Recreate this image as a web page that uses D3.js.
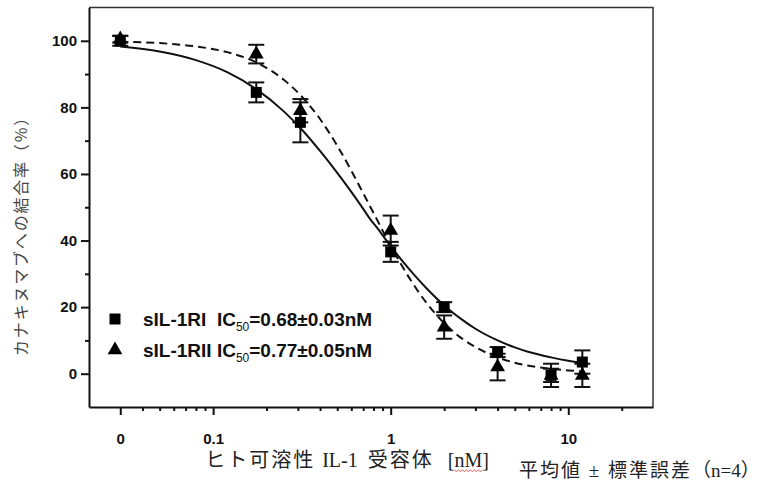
<!DOCTYPE html>
<html>
<head>
<meta charset="utf-8">
<script src="https://cdn.jsdelivr.net/npm/d3@7"></script>
<style>
  body { margin: 0; background: #fff; }
  svg { display: block; }
  .tick text { font-family: "Liberation Sans", Arial, sans-serif; font-weight: bold; font-size: 15px; fill: #111; }
</style>
</head>
<body>
<svg width="766" height="483"></svg>
<script>
// **** data ****
var conc = [0, 0.175, 0.31, 1, 2, 4, 8, 12];           // nM, 0 sits on the axis break
var r1Mean = [100, 84.5, 75.5, 36.6, 20, 6.5, -0.5, 3.5];  // sIL-1RI (squares)
var r1Err = [1.5, 3, 6, 3, 1.5, 1.5, 3.5, 3.5];
var r2Mean = [100.5, 96, 79, 43, 14, 2, -0.5, -0.5];      // sIL-1RII (triangles)
var r2Err = [1, 2.8, 3.5, 4.5, 3.5, 4, 2, 3.5];

// fitted curves
var fitX = [0.03, 0.05, 0.08, 0.12, 0.175, 0.25, 0.31, 0.4, 0.5, 0.6, 0.68, 0.77, 0.85, 0.9, 1, 1.3, 1.6, 2, 2.5, 3, 4, 5, 6, 8, 10, 12];
var fit1Y = [98.3, 96.8, 94.2, 90.6, 85.5, 78.8, 73.8, 66.9, 60.3, 54.6, 50.5, 46.3, 43.4, 41.6, 38.3, 30.8, 25.5, 20.5, 16.4, 13.5, 10.0, 7.9, 6.5, 4.9, 3.9, 3.3];
var fit2Y = [99.7, 99.3, 98.3, 96.6, 93.5, 88.3, 83.7, 76.5, 68.5, 61.0, 55.5, 50.0, 45.6, 43.0, 38.4, 28.0, 21.1, 15.2, 10.7, 8.0, 4.9, 3.3, 2.4, 1.5, 1.0, 0.7];

var xMajor = [0.03, 0.1, 1, 10];
var xMajorLabels = ["0", "0.1", "1", "10"];
var xMinor = [0.04, 0.05, 0.06, 0.07, 0.08, 0.09, 0.2, 0.3, 0.4, 0.5, 0.6, 0.7, 0.8, 0.9, 2, 3, 4, 5, 6, 7, 8, 9, 20];
var yMajor = [0, 20, 40, 60, 80, 100];
var yMinor = [10, 30, 50, 70, 90];

var zeroPos = 0.03;   // where concentration 0 is drawn

var svg = d3.select('svg');
var plotLeft = 89, plotRight = 653, plotTop = 7.5, plotBottom = 407;

var xScale = d3.scaleLog().domain([0.02, 30]).range([plotLeft, plotRight]);
var yScale = d3.scaleLinear().domain([-10, 110]).range([plotBottom, plotTop]);

function px(c) { return xScale(c === 0 ? zeroPos : c); }

// **** frame and axes ****
svg.append('path')
    .attr('d', 'M' + plotLeft + ',' + plotTop + 'H' + plotRight + 'V' + plotBottom)
    .attr('fill', 'none').attr('stroke', '#333').attr('stroke-width', 1.5);

function styleTicks(g) {
    g.selectAll('line').attr('stroke-width', 2).attr('stroke', '#111');
    g.select('.domain').attr('stroke-width', 2).attr('stroke', '#111');
    g.selectAll('text').attr('fill', '#111');
}

svg.append('g').attr('class', 'x axis minor')
    .attr('transform', 'translate(0,' + plotBottom + ')')
    .call(d3.axisBottom(xScale).tickValues(xMinor).tickSize(4).tickSizeOuter(0).tickFormat(''))
    .call(function (g) { styleTicks(g); g.select('.domain').remove(); });

svg.append('g').attr('class', 'x axis')
    .attr('transform', 'translate(0,' + plotBottom + ')')
    .call(d3.axisBottom(xScale).tickValues(xMajor).tickSize(8).tickSizeOuter(0).tickPadding(18)
        .tickFormat(function (d, i) { return xMajorLabels[i]; }))
    .call(styleTicks);

svg.append('g').attr('class', 'y axis minor')
    .attr('transform', 'translate(' + plotLeft + ',0)')
    .call(d3.axisLeft(yScale).tickValues(yMinor).tickSize(4).tickSizeOuter(0).tickFormat(''))
    .call(function (g) { styleTicks(g); g.select('.domain').remove(); });

svg.append('g').attr('class', 'y axis')
    .attr('transform', 'translate(' + plotLeft + ',0)')
    .call(d3.axisLeft(yScale).tickValues(yMajor).tickSize(8).tickSizeOuter(0).tickPadding(4))
    .call(styleTicks);

// **** fitted curves ****
var line = d3.line()
    .x(function (d) { return xScale(d[0]); })
    .y(function (d) { return yScale(d[1]); })
    .curve(d3.curveMonotoneX);

svg.append('path')
    .attr('d', line(fitX.map(function (x, i) { return [x, fit2Y[i]]; })))
    .attr('fill', 'none').attr('stroke', '#111').attr('stroke-width', 2)
    .attr('stroke-dasharray', '8,5');

svg.append('path')
    .attr('d', line(fitX.map(function (x, i) { return [x, fit1Y[i]]; })))
    .attr('fill', 'none').attr('stroke', '#111').attr('stroke-width', 2);

// **** error bars and markers ****
var squareSym = d3.symbol().type(d3.symbolSquare).size(121);
var triSym = d3.symbol().type(d3.symbolTriangle).size(95);

function errorBars(means, errs) {
    conc.forEach(function (c, i) {
        var x = px(c), y1 = yScale(means[i] + errs[i]), y0 = yScale(means[i] - errs[i]);
        var g = svg.append('g').attr('stroke', '#111').attr('stroke-width', 2);
        g.append('line').attr('x1', x).attr('x2', x).attr('y1', y1).attr('y2', y0);
        g.append('line').attr('x1', x - 8).attr('x2', x + 8).attr('y1', y1).attr('y2', y1);
        g.append('line').attr('x1', x - 8).attr('x2', x + 8).attr('y1', y0).attr('y2', y0);
    });
}

function markers(means, sym) {
    conc.forEach(function (c, i) {
        svg.append('path')
            .attr('d', sym())
            .attr('transform', 'translate(' + px(c) + ',' + yScale(means[i]) + ')')
            .attr('fill', '#000');
    });
}

errorBars(r2Mean, r2Err);
errorBars(r1Mean, r1Err);
markers(r2Mean, triSym);
markers(r1Mean, squareSym);

// **** legend ****
var legendRows = [
    { sym: squareSym, name: 'sIL-1RI\u00a0\u00a0IC', ic: '=0.68\u00b10.03nM', y: 326 },
    { sym: triSym, name: 'sIL-1RII IC', ic: '=0.77\u00b10.05nM', y: 357 }
];
legendRows.forEach(function (row) {
    svg.append('path').attr('d', row.sym())
        .attr('transform', 'translate(115,' + (row.y - 7) + ')')
        .attr('fill', '#000');
    var t = svg.append('text')
        .attr('x', 143).attr('y', row.y)
        .attr('font-family', '"Liberation Sans", Arial, sans-serif')
        .attr('font-weight', 'bold').attr('font-size', 19).attr('fill', '#111');
    t.append('tspan').text(row.name);
    t.append('tspan').attr('dy', 5).attr('font-size', 12).attr('font-weight', 'normal').text('50');
    t.append('tspan').attr('dy', -5).text(row.ic);
});

// **** axis titles ****
svg.append('text')
    .attr('transform', 'translate(27,232) rotate(-90)')
    .attr('text-anchor', 'middle')
    .attr('font-family', '"Noto Sans CJK JP", sans-serif')
    .attr('font-size', 16).attr('letter-spacing', 1.8).attr('fill', '#444')
    .text('カナキヌマブへの結合率（%）');

var titleFont = '"Liberation Serif", "Noto Sans CJK JP", serif';

var xTitle = svg.append('text')
    .attr('x', 347).attr('y', 467)
    .attr('text-anchor', 'middle')
    .style('white-space', 'pre')
    .attr('font-family', titleFont)
    .attr('font-size', 20).attr('fill', '#222');
[['ヒト可溶性 ', 2], ['IL-1  ', 0], ['受容体  ', 2], ['[nM]', 0]].forEach(function (p) {
    xTitle.append('tspan').attr('letter-spacing', p[1]).text(p[0]);
});

// red spell-check squiggle under nM
var str = xTitle.text();
var n0 = str.indexOf('nM');
var sx = xTitle.node().getStartPositionOfChar(n0).x;
var ex = xTitle.node().getEndPositionOfChar(n0 + 1).x;
var wave = 'M' + sx + ',470';
for (var wx = sx, k = 0; wx < ex; wx += 2, k++) {
    wave += 'L' + (wx + 2) + ',' + (k % 2 ? 470 : 471.5);
}
svg.append('path').attr('d', wave).attr('fill', 'none').attr('stroke', '#e0302a').attr('stroke-width', 0.8);

var note = svg.append('text')
    .attr('x', 519).attr('y', 477)
    .style('white-space', 'pre')
    .attr('font-family', titleFont)
    .attr('font-size', 19).attr('fill', '#222');
[['平均値 ± 標準誤差', 2], ['（n=4）', 0]].forEach(function (p) {
    note.append('tspan').attr('letter-spacing', p[1]).text(p[0]);
});
</script>
</body>
</html>
